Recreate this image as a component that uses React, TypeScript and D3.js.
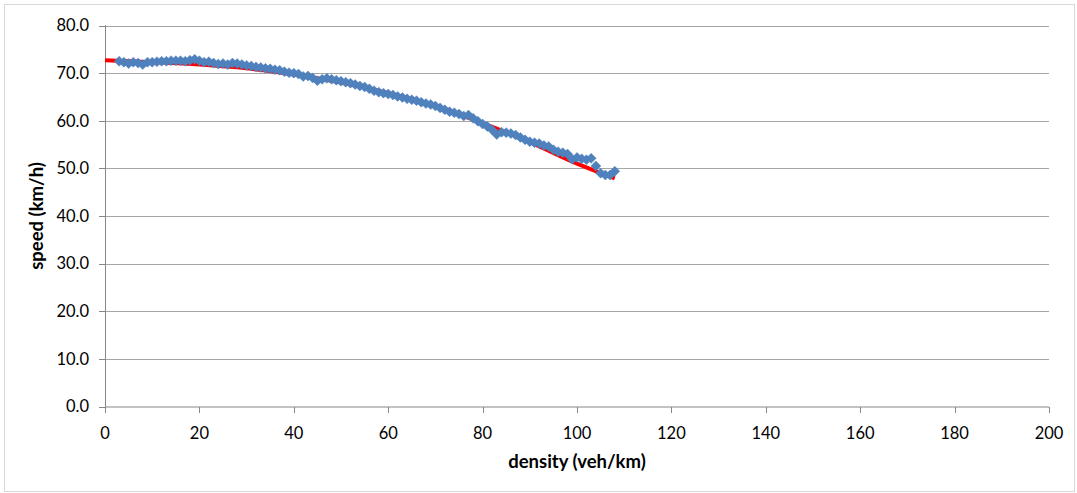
import React from "react";
import * as d3 from "d3";

const densities: number[] = [
  3, 4, 5, 6, 7, 8, 9, 10, 11, 12, 13, 14, 15, 16, 17, 18, 19, 20, 21, 22, 23, 24, 25, 26, 27, 28, 29, 30,
  31, 32, 33, 34, 35, 36, 37, 38, 39, 40, 41, 42, 43, 44, 45, 46, 47, 48, 49, 50, 51, 52, 53, 54, 55, 56,
  57, 58, 59, 60, 61, 62, 63, 64, 65, 66, 67, 68, 69, 70, 71, 72, 73, 74, 75, 76, 77, 78, 79, 80, 81, 82,
  83, 84, 85, 86, 87, 88, 89, 90, 91, 92, 93, 94, 95, 96, 97, 98, 99, 100, 101, 102, 103, 104, 105, 106,
  107, 108,
];
const speeds: number[] = [
  72.5, 72.3, 72.0, 72.3, 72.1, 71.8, 72.3, 72.3, 72.4, 72.5, 72.5, 72.6, 72.6, 72.6, 72.5, 72.7, 72.9, 72.6,
  72.3, 72.4, 72.1, 71.9, 72.0, 71.8, 72.1, 72.0, 71.8, 71.6, 71.5, 71.3, 71.2, 71.0, 70.9, 70.7, 70.6, 70.3,
  70.1, 70.0, 69.8, 69.3, 69.4, 69.0, 68.4, 68.7, 68.9, 68.7, 68.5, 68.3, 68.1, 67.9, 67.6, 67.3, 67.1, 66.7,
  66.3, 66.0, 65.8, 65.6, 65.4, 65.1, 64.9, 64.6, 64.4, 64.2, 63.9, 63.6, 63.4, 63.1, 62.7, 62.3, 61.9, 61.7,
  61.4, 61.0, 61.2, 60.5, 59.9, 59.3, 58.8, 58.1, 57.1, 57.6, 57.5, 57.3, 57.0, 56.5, 56.0, 55.6, 55.4, 55.2,
  54.8, 54.6, 53.9, 53.5, 53.3, 53.0, 51.9, 52.3, 52.0, 51.8, 52.1, 50.5, 49.0, 48.6, 48.6, 49.4,
];
const trendDensities: number[] = [0, 10, 20, 30, 40, 50, 60, 70, 80, 90, 100, 108];
const trendSpeeds: number[] = [72.7, 72.3, 71.8, 71.0, 69.7, 68.0, 65.8, 63.1, 59.5, 55.5, 51.0, 47.9];
const xTicks: number[] = [0, 20, 40, 60, 80, 100, 120, 140, 160, 180, 200];
const yTicks: number[] = [0, 10, 20, 30, 40, 50, 60, 70, 80];
const xTitle = "density (veh/km)";
const yTitle = "speed (km/h)";

const W = 1077;
const H = 493;
const FONT = "Lato, 'Open Sans', sans-serif";

export default function App() {
  const x = d3.scaleLinear().domain([0, 200]).range([105, 1049]);
  const y = d3.scaleLinear().domain([0, 80]).range([406.5, 25.5]);
  const trend = d3
    .line<number>()
    .x((_, i) => x(trendDensities[i]))
    .y((d) => y(d))
    .curve(d3.curveMonotoneX)(trendSpeeds) as string;
  const diamond = (cx: number, cy: number, r: number) =>
    `M${cx},${cy - r}L${cx + r},${cy}L${cx},${cy + r}L${cx - r},${cy}Z`;

  return (
    <svg
      width={W}
      height={H}
      style={{ position: "absolute", left: 0, top: 0, background: "#fff" }}
    >
      <rect x={4.5} y={4.5} width={1070} height={487} fill="#fff" stroke="#D9D9D9" />
      {yTicks.map((t) => (
        <g key={"y" + t}>
          {t > 0 && (
            <line x1={x(0)} x2={x(200)} y1={Math.round(y(t)) + 0.5} y2={Math.round(y(t)) + 0.5} stroke="#A6A6A6" />
          )}
          <line x1={99} x2={105} y1={Math.round(y(t)) + 0.5} y2={Math.round(y(t)) + 0.5} stroke="#868686" />
          <text
            x={89}
            y={y(t)}
            dy="0.35em"
            textAnchor="end"
            fontFamily={FONT}
            fontSize={16.5}
            fill="#000"
          >
            {t.toFixed(1)}
          </text>
        </g>
      ))}
      {xTicks.map((t) => (
        <g key={"x" + t}>
          <line x1={Math.round(x(t)) + 0.5} x2={Math.round(x(t)) + 0.5} y1={407} y2={413} stroke="#868686" />
          <text
            x={x(t)}
            y={439}
            textAnchor="middle"
            fontFamily={FONT}
            fontSize={16.5}
            fill="#000"
          >
            {t}
          </text>
        </g>
      ))}
      <line x1={105.5} x2={105.5} y1={25} y2={407} stroke="#868686" />
      <line x1={105} x2={1049} y1={407} y2={407} stroke="#868686" />
      <path d={trend} fill="none" stroke="#FF0000" strokeWidth={4} />
      {densities.map((d, i) => (
        <path
          key={"p" + i}
          d={diamond(x(d), y(speeds[i]), 5)}
          fill="#4F81BD"
          stroke="#4F81BD"
          strokeWidth={0.8}
          strokeOpacity={0.6}
        />
      ))}
      <text
        x={577}
        y={468}
        textAnchor="middle"
        fontFamily={FONT}
        fontSize={18.5}
        fontWeight="bold"
        fill="#000"
      >
        {xTitle}
      </text>
      <text
        transform={`translate(43,${y(40)}) rotate(-90)`}
        textAnchor="middle"
        fontFamily={FONT}
        fontSize={18.5}
        fontWeight="bold"
        fill="#000"
      >
        {yTitle}
      </text>
    </svg>
  );
}
